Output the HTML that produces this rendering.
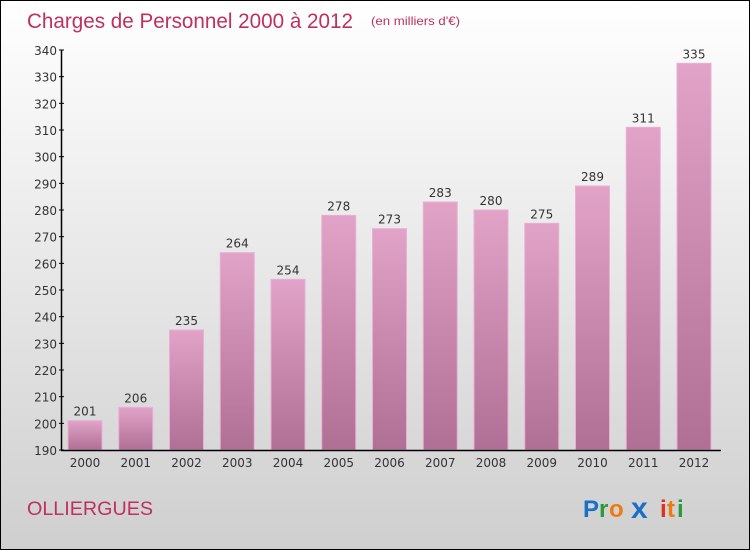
<!DOCTYPE html>
<html><head><meta charset="utf-8"><style>
body{margin:0}
#c{width:748px;height:548px;border:1px solid #000;background:linear-gradient(#fff,#cfcfcf);position:relative;font-family:"DejaVu Sans","Liberation Sans",sans-serif;overflow:hidden}
</style></head><body>
<div id="c">
<svg width="748" height="548" id="s">
<defs><linearGradient id="g" x1="0" y1="0" x2="0" y2="1"><stop offset="0" stop-color="#e2a3c8"/><stop offset="1" stop-color="#b06f95"/></linearGradient></defs>
<text x="26" y="27" font-size="21" font-family="Liberation Sans,sans-serif" textLength="326" lengthAdjust="spacingAndGlyphs" fill="#c0305f">Charges de Personnel 2000 à 2012</text>
<text x="370" y="24" font-size="12" font-family="Liberation Sans,sans-serif" textLength="89" lengthAdjust="spacingAndGlyphs" fill="#c0305f">(en milliers d'€)</text>
<text x="26" y="514" font-size="19" font-family="Liberation Sans,sans-serif" textLength="126" lengthAdjust="spacingAndGlyphs" fill="#c0305f">OLLIERGUES</text>
<g font-size="24" font-family="Liberation Sans,sans-serif" font-weight="bold"><text x="582" y="516" fill="#1a6fc8">P</text><text x="598" y="516" fill="#2a9a3a">r</text><text x="608" y="516" fill="#f07a10">o</text><text x="630" y="517" font-size="30" fill="#1a6fc8">x</text><text x="659" y="516" fill="#e03020">i</text><text x="666" y="516" fill="#f07a10">t</text><text x="676" y="516" fill="#2a9a3a">i</text></g>
<g id="plot"></g>
</svg></div>
<script>
const categories=["2000","2001","2002","2003","2004","2005","2006","2007","2008","2009","2010","2011","2012"];
const values=[201,206,235,264,254,278,273,283,280,275,289,311,335];
const ticks=[190,200,210,220,230,240,250,260,270,280,290,300,310,320,330,340];
const ns="http://www.w3.org/2000/svg",p=document.getElementById('plot');
const y=v=>449-(v-190)*400/150, x=i=>84+i*50.75;
function mk(t,a,txt){const e=document.createElementNS(ns,t);for(const k in a)e.setAttribute(k,a[k]);if(txt!=null)e.textContent=txt;p.appendChild(e);return e;}
categories.forEach((c,i)=>{
 let r=mk('rect',{x:x(i)-17,y:y(values[i]),width:34,height:y(190)-y(values[i]),fill:'url(#g)',stroke:'#e9b0d2','stroke-width':1});
 
 
 let l=mk('text',{x:x(i),y:y(values[i])-5,'text-anchor':'middle','font-size':12,fill:'#333'},values[i]);
 
 
 let t=mk('text',{x:x(i),y:466,'text-anchor':'middle','font-size':12,fill:'#333'},c);
 
 
});
ticks.forEach(v=>{
 let t=mk('text',{x:56,y:y(v)+5,'text-anchor':'end','font-size':12,fill:'#333'},v);
 
 
 mk('line',{x1:58,x2:63,y1:y(v),y2:y(v),stroke:'#000'});
});
let ax=mk('line',{x1:60.5,x2:60.5,y1:y(340),y2:y(190),stroke:'#000','stroke-width':1.5});


let bx=mk('line',{x1:60,x2:720,y1:y(190)+0.5,y2:y(190)+0.5,stroke:'#000','stroke-width':1.5});


</script>
</body></html>
